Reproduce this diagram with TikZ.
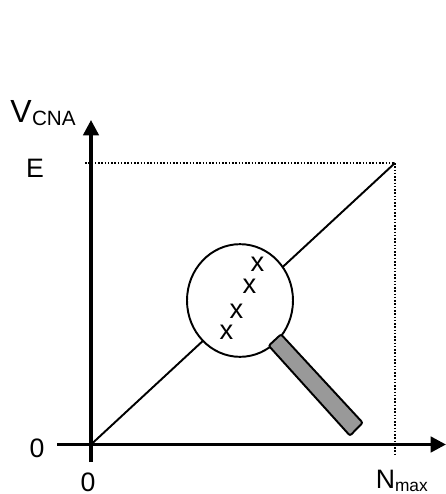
\documentclass[tikz,border=0pt]{standalone}
\usepackage{fontspec}
\setmainfont{Liberation Sans}
\usetikzlibrary{arrows.meta,shapes.geometric}
\tikzset{
  axisline/.style={line width=2.6pt,-{Triangle[length=11.5pt,width=11.5pt]}},
  thinline/.style={line width=1.45pt},
  dotline/.style={line width=1.15pt,dash pattern=on 1.15pt off 1.3pt},
  lab/.style={inner sep=0pt,font=\fontsize{20}{22}\selectfont},
  crossmark/.style={inner sep=0pt,font=\fontsize{20.5}{22}\selectfont}
}
\begin{document}
\begin{tikzpicture}[x=0.75pt,y=-0.75pt]
\useasboundingbox (0,0) rectangle (446,494);
\coordinate (xs) at (57,444.5);
\coordinate (xe) at (446,444.5);
\coordinate (ys) at (91,462);
\coordinate (ye) at (91,120);
\coordinate (o) at (91,444.5);
\coordinate (top) at (395,163);
\coordinate (el) at (85,163);
\coordinate (nb) at (395,454);
\draw[dotline] (el) -- (top);
\draw[dotline] (top) -- (nb);
\draw[thinline] (o) -- (top);
\draw[axisline] (xs) -- (xe);
\draw[axisline] (ys) -- (ye);
\node[draw,ellipse,fill=white,thinline,minimum width=79.5pt,minimum height=84.5pt,inner sep=0pt] (lens) at (240,300.5) {};
\draw[thinline,fill=black!40,rounded corners=1.5pt] (268.7,345.7) -- (281,334.3) -- (362.7,422.7) -- (350,435.7) -- cycle;
\node[crossmark] (x1) at (257.5,264) {x};
\node[crossmark] (x2) at (249.5,286.5) {x};
\node[crossmark] (x3) at (236.5,311.5) {x};
\node[crossmark] (x4) at (226.5,332) {x};
\node[lab,anchor=base west] (vl) at (10,122) {\fontsize{24}{26}\selectfont V\kern0.3pt\raisebox{-2.5pt}{\fontsize{15.5}{17}\selectfont CNA}};
\node[lab] (el2) at (35,168.5) {E};
\node[lab] (z1) at (37,448) {0};
\node[lab] (z2) at (88,482.5) {0};
\node[lab,anchor=base west] (nl) at (375.5,488) {N\raisebox{-2.5pt}{\fontsize{13}{15}\selectfont max}};
\end{tikzpicture}
\end{document}
